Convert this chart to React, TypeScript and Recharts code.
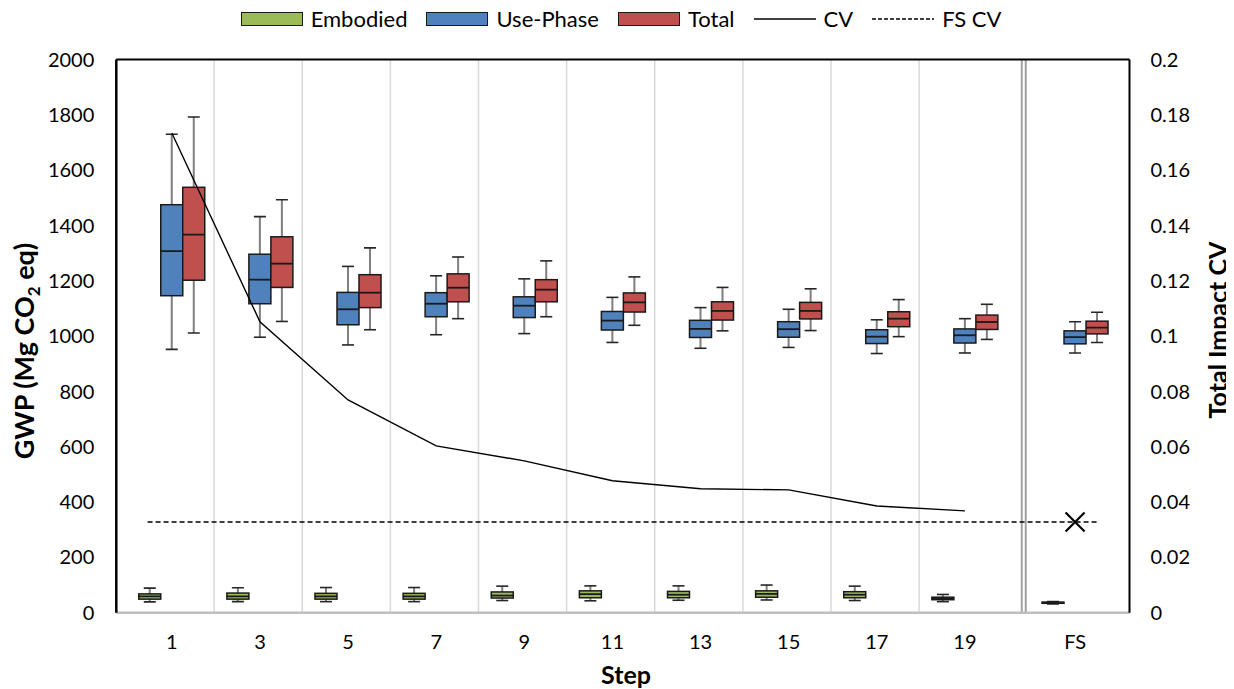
import React from "react";
import { ComposedChart, Bar, Line, XAxis, YAxis, ReferenceLine, Scatter } from "recharts";

const steps = ["1", "3", "5", "7", "9", "11", "13", "15", "17", "19", "FS"];
const stepPos = [1, 3, 5, 7, 9, 11, 13, 15, 17, 19, 21.5];

const embMin = [39, 40, 40, 40, 44, 43, 45, 46, 44, 40, 32];
const embQ1 = [49, 49, 49, 49, 53, 54, 54, 56, 54, 47, 34];
const embMed = [59, 59, 59, 59, 62, 67, 65, 68, 65, 51, 36];
const embQ3 = [68, 71, 70, 70, 75, 79, 77, 79, 76, 56, 38];
const embMax = [89, 90, 91, 91, 96, 97, 97, 100, 96, 66, 40];

const useMin = [952, 996, 968, 1005, 1009, 977, 956, 959, 937, 939, 939];
const useQ1 = [1146, 1117, 1041, 1070, 1067, 1022, 995, 996, 973, 975, 972];
const useMed = [1307, 1204, 1097, 1117, 1110, 1056, 1026, 1025, 998, 1003, 996];
const useQ3 = [1475, 1296, 1158, 1157, 1142, 1089, 1057, 1052, 1023, 1026, 1019];
const useMax = [1730, 1432, 1252, 1218, 1207, 1140, 1103, 1097, 1059, 1063, 1052];

const totMin = [1011, 1053, 1023, 1063, 1070, 1039, 1019, 1020, 998, 988, 977];
const totQ1 = [1202, 1176, 1103, 1124, 1124, 1087, 1058, 1062, 1034, 1024, 1008];
const totMed = [1367, 1262, 1157, 1175, 1168, 1122, 1091, 1091, 1063, 1051, 1031];
const totQ3 = [1538, 1359, 1222, 1225, 1204, 1156, 1124, 1122, 1088, 1076, 1054];
const totMax = [1792, 1493, 1319, 1286, 1272, 1214, 1176, 1171, 1132, 1115, 1086];

const cv = [0.1734, 0.1052, 0.0769, 0.0603, 0.0549, 0.0477, 0.0448, 0.0444, 0.0386, 0.0368, null];
const fsCv = 0.0328;

const leftTicks = [0, 200, 400, 600, 800, 1000, 1200, 1400, 1600, 1800, 2000];
const rightTicks = [0, 0.02, 0.04, 0.06, 0.08, 0.1, 0.12, 0.14, 0.16, 0.18, 0.2];

const data = steps.map((s, i) => ({
  x: stepPos[i],
  label: s,
  embMin: embMin[i], embQ1: embQ1[i], embMed: embMed[i], embQ3: embQ3[i], embMax: embMax[i],
  useMin: useMin[i], useQ1: useQ1[i], useMed: useMed[i], useQ3: useQ3[i], useMax: useMax[i],
  totMin: totMin[i], totQ1: totQ1[i], totMed: totMed[i], totQ3: totQ3[i], totMax: totMax[i],
  cv: cv[i],
}));

const gridPos = stepPos.slice(0, 9).map((p) => p + 0.96);

const FONT = "Lato, 'DejaVu Sans', sans-serif";

const makeBox = (key: string, fill: string) => (props: any) => {
  const { x, y, width, height, payload } = props;
  if (!payload || x == null) return <g />;
  const mn = payload[key + "Min"];
  const mx = payload[key + "Max"];
  const q1 = payload[key + "Q1"];
  const md = payload[key + "Med"];
  const q3 = payload[key + "Q3"];
  const top = Math.min(y, y + height);
  const h = Math.abs(height);
  const py = (v: number) => top + (h * (mx - v)) / (mx - mn);
  const cx = x + width / 2;
  const cap = 6;
  return (
    <g>
      <line x1={cx} x2={cx} y1={py(mx)} y2={py(q3)} stroke="#7f7f7f" strokeWidth={2} />
      <line x1={cx} x2={cx} y1={py(q1)} y2={py(mn)} stroke="#7f7f7f" strokeWidth={2} />
      <line x1={cx - cap} x2={cx + cap} y1={py(mx)} y2={py(mx)} stroke="#262626" strokeWidth={1.6} />
      <line x1={cx - cap} x2={cx + cap} y1={py(mn)} y2={py(mn)} stroke="#262626" strokeWidth={1.6} />
      <rect x={x} y={py(q3)} width={width} height={Math.max(py(q1) - py(q3), 0.5)} fill={fill} stroke="#1a1a1a" strokeWidth={1.5} />
      <line x1={x} x2={x + width} y1={py(md)} y2={py(md)} stroke="#1a1a1a" strokeWidth={1.8} />
    </g>
  );
};

const XMark = (props: any) => {
  const { cx, cy } = props;
  if (cx == null) return <g />;
  const r = 9.5;
  return (
    <g>
      <line x1={cx - r} y1={cy - r} x2={cx + r} y2={cy + r} stroke="#000" strokeWidth={2.2} />
      <line x1={cx - r} y1={cy + r} x2={cx + r} y2={cy - r} stroke="#000" strokeWidth={2.2} />
    </g>
  );
};

const legendItems = [
  { name: "Embodied", type: "box", color: "#9BBB59" },
  { name: "Use-Phase", type: "box", color: "#4F81BD" },
  { name: "Total", type: "box", color: "#C0504D" },
  { name: "CV", type: "line", color: "#000" },
  { name: "FS CV", type: "dash", color: "#000" },
];

export default function App() {
  return (
    <div style={{ position: "relative", width: 1226, height: 681, fontFamily: FONT, background: "#fff" }}>
      <ComposedChart
        width={1226}
        height={681}
        data={data}
        margin={{ top: 51.5, right: 0, bottom: 0, left: 0 }}
        barGap={0}
        barSize={22}
      >
        <XAxis
          dataKey="x"
          type="number"
          domain={[-0.26, 22.735]}
          ticks={stepPos}
          interval={0}
          tickFormatter={(v: number) => steps[stepPos.indexOf(v)] ?? ""}
          tickLine={false}
          tickSize={0}
          tickMargin={22}
          height={76.3}
          axisLine={{ stroke: "#bfbfbf", strokeWidth: 2.5 }}
          tick={{ fill: "#000", fontSize: 20, fontFamily: FONT }}
          allowDataOverflow
        />
        <YAxis
          yAxisId="left"
          orientation="left"
          domain={[0, 2000]}
          ticks={leftTicks}
          interval={0}
          width={108.3}
          tickLine={false}
          tickSize={0}
          tickMargin={22}
          axisLine={{ stroke: "#000", strokeWidth: 2.5 }}
          tick={{ fill: "#000", fontSize: 20, fontFamily: FONT }}
        />
        <YAxis
          yAxisId="right"
          orientation="right"
          domain={[0, 0.2]}
          ticks={rightTicks}
          interval={0}
          width={104.5}
          tickLine={false}
          tickSize={0}
          tickMargin={21}
          axisLine={{ stroke: "#000", strokeWidth: 2 }}
          tick={{ fill: "#000", fontSize: 20, fontFamily: FONT }}
          tickFormatter={(v: number) => String(v)}
        />
        {gridPos.map((g) => (
          <ReferenceLine key={"g" + g} x={g} yAxisId="left" stroke="#d9d9d9" strokeWidth={1.5} />
        ))}
        <ReferenceLine x={20.29} yAxisId="left" stroke="#a0a0a0" strokeWidth={2} />
        <ReferenceLine x={20.38} yAxisId="left" stroke="#a0a0a0" strokeWidth={2} />
        <ReferenceLine y={2000} yAxisId="left" stroke="#000" strokeWidth={2} />
        <Bar yAxisId="left" dataKey={(d: any) => [d.embMin, d.embMax]} shape={makeBox("emb", "#9BBB59")} isAnimationActive={false} />
        <Bar yAxisId="left" dataKey={(d: any) => [d.useMin, d.useMax]} shape={makeBox("use", "#4F81BD")} isAnimationActive={false} />
        <Bar yAxisId="left" dataKey={(d: any) => [d.totMin, d.totMax]} shape={makeBox("tot", "#C0504D")} isAnimationActive={false} />
        <Line yAxisId="right" dataKey="cv" stroke="#000" strokeWidth={1.4} dot={false} isAnimationActive={false} />
        <ReferenceLine
          yAxisId="right"
          segment={[{ x: 0.45, y: fsCv }, { x: 22, y: fsCv }]}
          stroke="#000"
          strokeWidth={1.4}
          strokeDasharray="5 3"
        />
        <Scatter
          yAxisId="right"
          data={[{ x: stepPos[10], fs: fsCv }]}
          dataKey="fs"
          shape={XMark}
          isAnimationActive={false}
        />
      </ComposedChart>

      <div
        style={{
          position: "absolute",
          left: 0,
          width: 1226,
          top: 0,
          height: 22,
          display: "flex",
          justifyContent: "center",
          alignItems: "center",
          fontSize: 22,
          lineHeight: "22px",
          color: "#000",
        }}
      >
        {legendItems.map((it, i) => (
          <div key={it.name} style={{ display: "flex", alignItems: "center", marginRight: i < legendItems.length - 1 ? 19 : 0 }}>
            {it.type === "box" ? (
              <div style={{ width: 62, height: 14, background: it.color, border: "1.5px solid #1a1a1a", boxSizing: "border-box", marginRight: 8 }} />
            ) : (
              <svg width={62} height={14} style={{ marginRight: 8 }}>
                <line x1={0} x2={62} y1={7} y2={7} stroke="#000" strokeWidth={1.4} strokeDasharray={it.type === "dash" ? "4 2" : undefined} />
              </svg>
            )}
            <span style={{ whiteSpace: "nowrap" }}>{it.name}</span>
          </div>
        ))}
      </div>

      <svg
        width={1226}
        height={681}
        style={{ position: "absolute", left: 0, top: 0, pointerEvents: "none", overflow: "visible" }}
      >
        <text
          x={26}
          y={343}
          transform="rotate(-90, 26, 343)"
          textAnchor="middle"
          fontFamily={FONT}
          fontWeight={700}
          fontSize={27}
          fill="#000"
        >
          GWP (Mg CO
          <tspan fontSize={17} dy={6}>2</tspan>
          <tspan dy={-6}> eq)</tspan>
        </text>
        <text
          x={1219}
          y={322}
          transform="rotate(-90, 1219, 322)"
          textAnchor="middle"
          fontFamily={FONT}
          fontWeight={700}
          fontSize={25}
          fill="#000"
        >
          Total Impact CV
        </text>
        <text
          x={618}
          y={676}
          textAnchor="middle"
          fontFamily={FONT}
          fontWeight={700}
          fontSize={25}
          fill="#000"
        >
          Step
        </text>
      </svg>
    </div>
  );
}
